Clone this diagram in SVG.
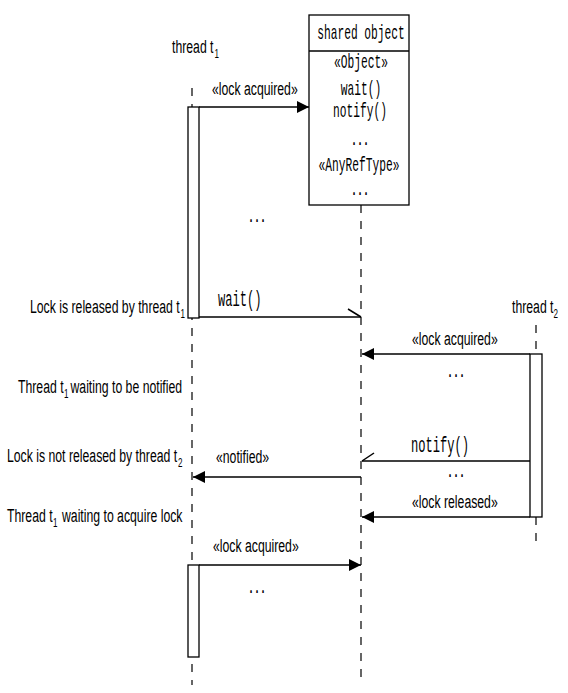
<svg xmlns="http://www.w3.org/2000/svg" width="568" height="693" viewBox="0 0 568 693">
<style>
.s{font-family:"Liberation Sans",Arial,sans-serif;font-size:19px;fill:#000}
.m{font-family:"Liberation Mono","DejaVu Sans Mono",monospace;font-size:21px;fill:#000}
.ml{font-family:"Liberation Mono","DejaVu Sans Mono",monospace;font-size:22px;fill:#000}
.sub{font-family:"Liberation Sans",Arial,sans-serif;font-size:12.5px;fill:#000}
.d{font-family:"Liberation Mono","DejaVu Sans Mono",monospace;font-size:18px;font-weight:bold;fill:#000}
.life{stroke:#000;stroke-width:1.2;stroke-dasharray:8,8;fill:none}
.act{fill:#fff;stroke:#000;stroke-width:1.3}
.msg{stroke:#000;stroke-width:1.5;fill:none}
</style>
<defs>
<marker id="ah" viewBox="0 0 12 12" refX="12" refY="6" markerWidth="12" markerHeight="12" markerUnits="userSpaceOnUse" orient="auto">
<path d="M0,0 L12,6 L0,12 Z" fill="#000"/>
</marker>
</defs>
<rect width="568" height="693" fill="#fff"/>

<g id="thread-t1">
<text class="s" transform="translate(172,53) scale(0.645,1)">thread t</text>
<text class="sub" transform="translate(214.5,58) scale(0.645,1)">1</text>
<line class="life" x1="192" y1="88" x2="192" y2="685"/>
<rect class="act" x="188" y="107" width="11" height="211"/>
<rect class="act" x="188" y="565" width="11" height="92"/>
</g>

<g id="shared-object">
<line class="life" x1="361" y1="205" x2="361" y2="680"/>
<rect x="309" y="15" width="100" height="190" fill="#fff" stroke="#000" stroke-width="1.3"/>
<line x1="309" y1="51" x2="409" y2="51" stroke="#000" stroke-width="1.3"/>
<text class="m" text-anchor="middle" transform="translate(361,39) scale(0.535,1)">shared object</text>
<text class="m" text-anchor="middle" transform="translate(361,68) scale(0.535,1)">«Object»</text>
<text class="m" text-anchor="middle" transform="translate(361,95) scale(0.535,1)">wait()</text>
<text class="m" text-anchor="middle" transform="translate(360,117) scale(0.535,1)">notify()</text>
<text class="d" text-anchor="middle" transform="translate(360,145) scale(0.56,1)">...</text>
<text class="m" text-anchor="middle" transform="translate(359,171) scale(0.535,1)">«AnyRefType»</text>
<text class="d" text-anchor="middle" transform="translate(360,195) scale(0.56,1)">...</text>
</g>

<g id="thread-t2">
<text class="s" transform="translate(512,313) scale(0.645,1)">thread t</text>
<text class="sub" transform="translate(553.5,318) scale(0.645,1)">2</text>
<line class="life" x1="536" y1="325" x2="536" y2="546"/>
<rect class="act" x="530" y="354" width="12" height="163"/>
</g>

<g id="notes">
<text class="s" transform="translate(30,313) scale(0.645,1)">Lock is released by thread t</text>
<text class="sub" transform="translate(180.5,318) scale(0.645,1)">1</text>
<text class="s" transform="translate(18,393) scale(0.645,1)">Thread t</text>
<text class="sub" transform="translate(64,398) scale(0.645,1)">1</text>
<text class="s" transform="translate(70.5,393) scale(0.645,1)">waiting to be notified</text>
<text class="s" transform="translate(7,462) scale(0.645,1)">Lock is not released by thread t</text>
<text class="sub" transform="translate(178,467) scale(0.645,1)">2</text>
<text class="s" transform="translate(7,522) scale(0.645,1)">Thread t</text>
<text class="sub" transform="translate(53,527) scale(0.645,1)">1</text>
<text class="s" transform="translate(62,522) scale(0.645,1)">waiting to acquire lock</text>
</g>

<g id="connectors">
<line class="msg" x1="199" y1="107" x2="309" y2="107" marker-end="url(#ah)"/>
<text class="s" transform="translate(212,95) scale(0.645,1)">«lock acquired»</text>
<text class="d" text-anchor="middle" transform="translate(257,222) scale(0.56,1)">...</text>

<line class="msg" x1="199" y1="317" x2="361" y2="317"/>
<line class="msg" x1="361" y1="317" x2="348" y2="309"/>
<text class="ml" transform="translate(218,306) scale(0.55,1)">wait()</text>

<line class="msg" x1="530" y1="354" x2="362" y2="354" marker-end="url(#ah)"/>
<text class="s" transform="translate(412,345) scale(0.645,1)">«lock acquired»</text>
<text class="d" text-anchor="middle" transform="translate(456,377) scale(0.56,1)">...</text>

<line class="msg" x1="530" y1="461" x2="362" y2="461"/>
<line class="msg" x1="362" y1="461" x2="374" y2="453"/>
<text class="ml" transform="translate(411,452) scale(0.55,1)">notify()</text>
<text class="d" text-anchor="middle" transform="translate(456,477) scale(0.56,1)">...</text>

<line class="msg" x1="361" y1="477" x2="193" y2="477" marker-end="url(#ah)"/>
<text class="s" transform="translate(216,463) scale(0.645,1)">«notified»</text>

<line class="msg" x1="530" y1="517" x2="362" y2="517" marker-end="url(#ah)"/>
<text class="s" transform="translate(412,508) scale(0.645,1)">«lock released»</text>

<line class="msg" x1="199" y1="565" x2="361" y2="565" marker-end="url(#ah)"/>
<text class="s" transform="translate(213,552) scale(0.645,1)">«lock acquired»</text>
<text class="d" text-anchor="middle" transform="translate(257,593) scale(0.56,1)">...</text>
</g>
</svg>
